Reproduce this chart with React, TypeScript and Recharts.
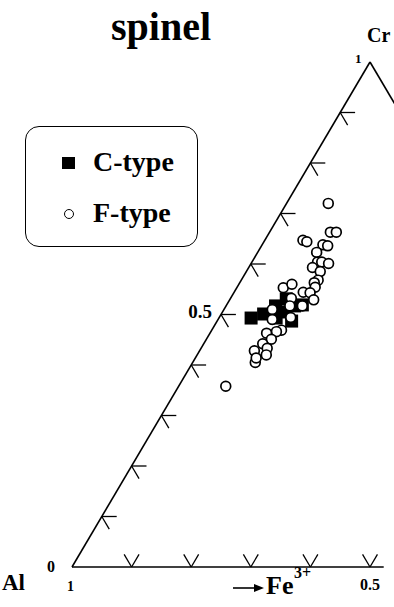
import { ScatterChart, Scatter, XAxis, YAxis, ReferenceLine, Legend } from "recharts"

// ternary Al - Cr - Fe3+ (only the Al-rich half is shown)
// values are mole fractions
const cTypeCr = [0.493, 0.501, 0.517, 0.493, 0.531, 0.505, 0.487, 0.517, 0.519]
const cTypeFe = [0.054, 0.071, 0.083, 0.096, 0.094, 0.106, 0.125, 0.115, 0.127]

const fTypeCr = [
  0.72, 0.663, 0.663, 0.647, 0.644, 0.638, 0.636, 0.623, 0.604, 0.604, 0.601, 0.593, 0.585,
  0.568, 0.563, 0.554, 0.553, 0.56, 0.544, 0.543, 0.529, 0.517, 0.532, 0.517, 0.51, 0.49,
  0.494, 0.469, 0.466, 0.463, 0.451, 0.442, 0.433, 0.428, 0.42, 0.405, 0.414, 0.358,
]
const fTypeFe = [
  0.07, 0.102, 0.112, 0.064, 0.072, 0.102, 0.111, 0.099, 0.11, 0.117, 0.13, 0.107, 0.124,
  0.129, 0.125, 0.131, 0.078, 0.089, 0.116, 0.128, 0.141, 0.128, 0.102, 0.107, 0.081, 0.091,
  0.12, 0.117, 0.11, 0.095, 0.109, 0.099, 0.111, 0.092, 0.116, 0.105, 0.102, 0.079,
]

const crTicks = [0.1, 0.2, 0.3, 0.4, 0.5, 0.6, 0.7, 0.8, 0.9]
const feTicks = [0.1, 0.2, 0.3, 0.4, 0.5]

// ternary -> cartesian (x along Al-Fe edge, y = Cr)
const toXY = (cr: number, fe: number) => ({ x: fe + cr / 2, y: cr })

const cData = cTypeCr.map((c, i) => toXY(c, cTypeFe[i]))
const fData = fTypeCr.map((c, i) => toXY(c, fTypeFe[i]))

const W = 394
const H = 607
const font = "'Liberation Serif', 'Times New Roman', serif"
const arm = 0.025

const SquareShape = (p: any) => <rect x={p.cx - 6.5} y={p.cy - 6.5} width={13} height={13} fill="#000" />
const CircleShape = (p: any) => (
  <circle cx={p.cx} cy={p.cy} r={4.9} fill="#fff" stroke="#000" strokeWidth={1.7} />
)

function LegendBox() {
  return (
    <div
      style={{
        width: 173,
        height: 121,
        border: "1.5px solid #000",
        borderRadius: 14,
        boxSizing: "border-box",
        fontFamily: font,
        fontWeight: "bold",
        fontSize: 28,
        position: "relative",
      }}
    >
      <div style={{ position: "absolute", left: 36, top: 30, width: 13, height: 12, background: "#000" }} />
      <div style={{ position: "absolute", left: 67, top: 20, lineHeight: "30px" }}>C-type</div>
      <div
        style={{
          position: "absolute",
          left: 38,
          top: 82,
          width: 8,
          height: 8,
          border: "1.5px solid #000",
          borderRadius: "50%",
        }}
      />
      <div style={{ position: "absolute", left: 67, top: 71, lineHeight: "30px" }}>F-type</div>
    </div>
  )
}

export default function App() {
  const line = { stroke: "#000", strokeWidth: 1.6 }
  return (
    <div style={{ position: "absolute", left: 0, top: 0, width: W, height: H, background: "#fff" }}>
      <ScatterChart width={W} height={H} margin={{ top: 0, right: 0, bottom: 0, left: 0 }}>
        <XAxis type="number" dataKey="x" domain={[-72 / 596, 322 / 596]} hide allowDataOverflow />
        <YAxis type="number" dataKey="y" domain={[-40 / 505, 567 / 505]} hide allowDataOverflow />
        {/* vertical + centered + middle: legend takes no room from the plot */}
        <Legend
          layout="vertical"
          verticalAlign="middle"
          align="center"
          wrapperStyle={{ left: 25, top: 126, width: 173, margin: 0 }}
          content={() => <LegendBox />}
        />

        {/* triangle edges */}
        <ReferenceLine segment={[{ x: 0, y: 0 }, { x: 0.5, y: 1 }]} {...line} ifOverflow="visible" />
        <ReferenceLine segment={[{ x: 0, y: 0 }, { x: 0.523, y: 0 }]} {...line} ifOverflow="visible" />
        <ReferenceLine segment={[{ x: 0.5, y: 1 }, { x: 1, y: 0 }]} {...line} ifOverflow="hidden" />

        {/* Cr ticks on left edge */}
        {crTicks.map((c) => (
          <ReferenceLine
            key={`cr-a-${c}`}
            segment={[{ x: c / 2, y: c }, { x: c / 2 + arm, y: c }]}
            stroke="#000"
            strokeWidth={1.3}
            ifOverflow="visible"
          />
        ))}
        {crTicks.map((c) => (
          <ReferenceLine
            key={`cr-b-${c}`}
            segment={[{ x: c / 2, y: c }, { x: c / 2 + arm / 2, y: c - arm }]}
            stroke="#000"
            strokeWidth={1.3}
            ifOverflow="visible"
          />
        ))}
        {/* Fe3+ ticks on bottom edge */}
        {feTicks.map((f) => (
          <ReferenceLine
            key={`fe-a-${f}`}
            segment={[{ x: f, y: 0 }, { x: f - arm / 2, y: arm }]}
            stroke="#000"
            strokeWidth={1.3}
            ifOverflow="visible"
          />
        ))}
        {feTicks.map((f) => (
          <ReferenceLine
            key={`fe-b-${f}`}
            segment={[{ x: f, y: 0 }, { x: f + arm / 2, y: arm }]}
            stroke="#000"
            strokeWidth={1.3}
            ifOverflow="visible"
          />
        ))}

        <Scatter name="C-type" data={cData} shape={SquareShape} legendType="square" isAnimationActive={false} />
        <Scatter name="F-type" data={fData} shape={CircleShape} legendType="circle" isAnimationActive={false} />

        <g fontFamily={font} fontWeight="bold" fill="#000">
          <text x={161} y={40} fontSize={40} textAnchor="middle">spinel</text>
          <text x={367} y={42} fontSize={20}>Cr</text>
          <text x={355} y={63} fontSize={13}>1</text>
          <text x={212} y={318} fontSize={19} textAnchor="end">0.5</text>
          <text x={2} y={590} fontSize={23}>Al</text>
          <text x={47} y={572} fontSize={16}>0</text>
          <text x={67} y={591} fontSize={14}>1</text>
          <text x={266} y={594} fontSize={26}>Fe</text>
          <text x={294} y={578} fontSize={16}>3+</text>
          <text x={370} y={590} fontSize={16} textAnchor="middle">0.5</text>
        </g>
        <line x1={233} y1={588} x2={256} y2={588} stroke="#000" strokeWidth={1.6} />
        <polygon points="254,584 264,588 254,592" fill="#000" />
      </ScatterChart>
    </div>
  )
}
